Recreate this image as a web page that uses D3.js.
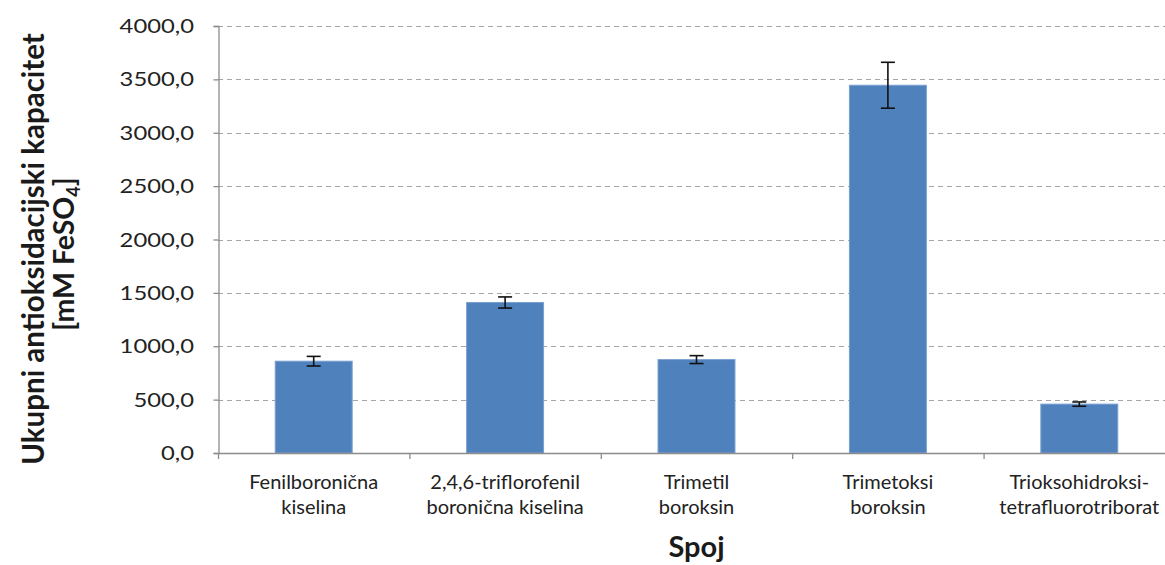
<!DOCTYPE html>
<html>
<head>
<meta charset="utf-8">
<script src="https://cdn.jsdelivr.net/npm/d3@7"></script>
<style>
  html, body { margin: 0; padding: 0; background: #fff; }
  svg { display: block; }
</style>
</head>
<body>
<svg id="chart" width="1165" height="565"></svg>
<script>
// ---- data ----
const categories = [
  ["Fenilboronična", "kiselina"],
  ["2,4,6-triflorofenil", "boronična kiselina"],
  ["Trimetil", "boroksin"],
  ["Trimetoksi", "boroksin"],
  ["Trioksohidroksi-", "tetrafluorotriborat"]
];
const values = [860, 1410, 875, 3445, 458];
const errors = [45, 52, 37, 215, 20];
const yTicks = [0, 500, 1000, 1500, 2000, 2500, 3000, 3500, 4000];
const yTitle = "Ukupni antioksidacijski kapacitet";
const yUnit = ["[mM FeSO", "4", "]"];
const xTitle = "Spoj";

// ---- layout ----
const svg = d3.select("#chart");
const x0 = 218, x1 = 1175, yTop = 26, yBot = 453;
const idx = categories.map((d, i) => i);

const x = d3.scaleBand().domain(idx).range([x0, x1]).paddingInner(0).paddingOuter(0);
const y = d3.scaleLinear().domain([0, 4000]).range([yBot, yTop]);
const barW = x.bandwidth() * 0.402;

// gridlines
svg.append("g").selectAll("line").data(yTicks.filter(t => t > 0)).join("line")
  .attr("x1", x0).attr("x2", 1165)
  .attr("y1", d => Math.round(y(d)) + 0.5).attr("y2", d => Math.round(y(d)) + 0.5)
  .attr("stroke", "#a6a6a6").attr("stroke-width", 1.2)
  .attr("stroke-dasharray", "5,4");

// bars
svg.append("g").selectAll("rect").data(idx).join("rect")
  .attr("x", i => x(i) + x.bandwidth() / 2 - barW / 2)
  .attr("width", barW)
  .attr("y", i => y(values[i]))
  .attr("height", i => y(0) - y(values[i]))
  .attr("fill", "#4f81bd")
  .attr("stroke", "#7aa0d0").attr("stroke-width", 1);

// error bars
const eg = svg.append("g").attr("stroke", "#111").attr("stroke-width", 1.6);
idx.forEach(i => {
  const cx = x(i) + x.bandwidth() / 2;
  const hi = y(values[i] + errors[i]), lo = y(values[i] - errors[i]);
  eg.append("line").attr("x1", cx).attr("x2", cx).attr("y1", hi).attr("y2", lo);
  eg.append("line").attr("x1", cx - 7).attr("x2", cx + 7).attr("y1", hi).attr("y2", hi);
  eg.append("line").attr("x1", cx - 7).attr("x2", cx + 7).attr("y1", lo).attr("y2", lo);
});

// y axis
const yAxis = svg.append("g").attr("transform", `translate(${x0 + 0.5},0)`)
  .call(d3.axisLeft(y).tickValues(yTicks).tickSize(5).tickFormat(""));
yAxis.select(".domain").attr("stroke", "#8c8c8c").attr("stroke-width", 1.3);
yAxis.selectAll(".tick line").attr("stroke", "#8c8c8c").attr("stroke-width", 1.3);

// y tick labels (wide, as in reference)
svg.append("g").selectAll("text").data(yTicks).join("text")
  .attr("transform", d => `translate(194,${y(d) + 7}) scale(1.22,1)`)
  .attr("text-anchor", "end")
  .attr("font-family", "Lato, 'Open Sans', sans-serif")
  .attr("font-size", 19.5)
  .attr("fill", "#222")
  .text(d => d3.format(".1f")(d).replace(".", ","));

// x axis
const boundaries = d3.range(categories.length + 1);
const xg = svg.append("g");
xg.append("line").attr("x1", x0).attr("x2", 1165).attr("y1", yBot + 0.5).attr("y2", yBot + 0.5)
  .attr("stroke", "#8c8c8c").attr("stroke-width", 1.6);
xg.selectAll("line.tk").data(boundaries).join("line").attr("class", "tk")
  .attr("x1", b => (b < categories.length ? x(b) : x1) + 0.5)
  .attr("x2", b => (b < categories.length ? x(b) : x1) + 0.5)
  .attr("y1", yBot).attr("y2", yBot + 6)
  .attr("stroke", "#8c8c8c").attr("stroke-width", 1.3);

// x labels
const xl = svg.append("g").attr("font-family", "Lato, 'Open Sans', sans-serif")
  .attr("font-size", 20).attr("fill", "#222").attr("text-anchor", "middle");
idx.forEach(i => {
  const cx = x(i) + x.bandwidth() / 2;
  categories[i].forEach((line, k) => {
    xl.append("text").attr("x", cx).attr("y", 489 + k * 25).text(line);
  });
});

// x title
svg.append("text").attr("x", (x0 + x1) / 2).attr("y", 557)
  .attr("text-anchor", "middle")
  .attr("font-family", "Lato, 'Open Sans', sans-serif")
  .attr("font-weight", "bold").attr("font-size", 29).attr("fill", "#1a1a1a")
  .text(xTitle);

// y title
const yt = svg.append("g").attr("transform", "translate(0,249) rotate(-90)")
  .attr("font-family", "Lato, 'Open Sans', sans-serif")
  .attr("font-weight", "bold").attr("fill", "#1a1a1a").attr("text-anchor", "middle");
yt.append("text").attr("x", 0).attr("y", 44).attr("font-size", 29.5).text(yTitle);
const t2 = yt.append("text").attr("x", -5).attr("y", 74).attr("font-size", 28.5);
t2.append("tspan").text(yUnit[0]);
t2.append("tspan").attr("font-size", 18).attr("dy", 6).text(yUnit[1]);
t2.append("tspan").attr("dy", -6).text(yUnit[2]);
</script>
</body>
</html>
